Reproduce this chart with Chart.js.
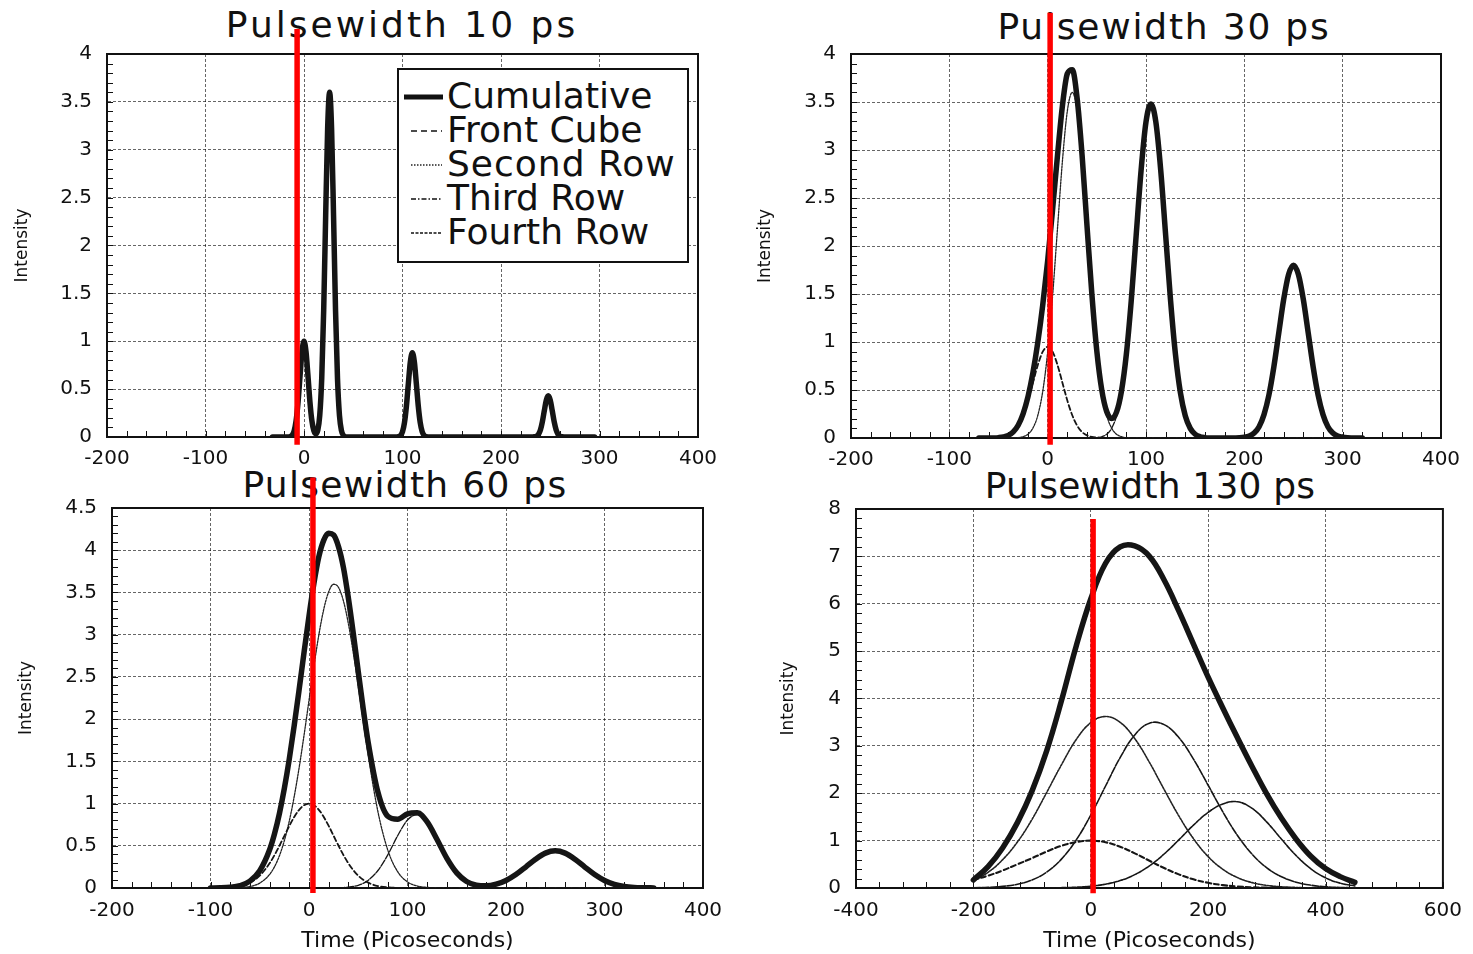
<!DOCTYPE html>
<html>
<head>
<meta charset="utf-8">
<script src="https://cdn.jsdelivr.net/npm/chart.js@4.4.1/dist/chart.umd.min.js"></script>
<style>
html,body{margin:0;padding:0;background:#fff;}
body{width:1473px;height:954px;position:relative;overflow:hidden;font-family:'DejaVu Sans',sans-serif;color:#111;}
.title{position:absolute;font-size:36px;line-height:36px;white-space:nowrap;transform:translateX(-50%);z-index:1;}
.wrap{position:absolute;width:736px;height:477px;z-index:2;}
canvas{display:block;}
#legend{position:absolute;left:397px;top:68px;width:288px;height:191px;border:2px solid #111;background:#fff;z-index:3;}
#legend svg{position:absolute;left:0;top:0;}
#legend .lt{position:absolute;left:48px;font-size:36px;line-height:36px;white-space:nowrap;}
</style>
</head>
<body>
<div class="title" style="left:402px;top:7px;letter-spacing:3px;">Pulsewidth 10 ps</div>
<div class="title" style="left:1164px;top:9px;letter-spacing:1.8px;">Pulsewidth 30 ps</div>
<div class="title" style="left:405px;top:467px;letter-spacing:1.3px;">Pulsewidth 60 ps</div>
<div class="title" style="left:1150px;top:468px;letter-spacing:0.2px;">Pulsewidth 130 ps</div>

<div class="wrap" style="left:0;top:0;"><canvas id="c1" width="736" height="477"></canvas></div>
<div class="wrap" style="left:737px;top:0;"><canvas id="c2" width="736" height="477"></canvas></div>
<div class="wrap" style="left:0;top:477px;"><canvas id="c3" width="736" height="477"></canvas></div>
<div class="wrap" style="left:737px;top:477px;"><canvas id="c4" width="736" height="477"></canvas></div>

<div id="legend">
  <svg width="288" height="191">
    <line x1="5" y1="27" x2="44" y2="27" stroke="#111" stroke-width="5"/>
    <line x1="12" y1="61" x2="43" y2="61" stroke="#111" stroke-width="1.6" stroke-dasharray="6,4"/>
    <line x1="12" y1="95" x2="43" y2="95" stroke="#222" stroke-width="1.6" stroke-dasharray="1.5,1.5"/>
    <line x1="12" y1="129" x2="43" y2="129" stroke="#111" stroke-width="1.6" stroke-dasharray="5,2,1.5,2"/>
    <line x1="12" y1="163" x2="43" y2="163" stroke="#111" stroke-width="1.6" stroke-dasharray="3,1.5"/>
  </svg>
  <div class="lt" style="top:7.5px;">Cumulative</div>
  <div class="lt" style="top:41.5px;">Front Cube</div>
  <div class="lt" style="top:75.5px;letter-spacing:1px;">Second Row</div>
  <div class="lt" style="top:109.5px;">Third Row</div>
  <div class="lt" style="top:143.5px;">Fourth Row</div>
</div>

<script>
// ================= DATA =================
const seriesNames = ['Cumulative','Front Cube','Second Row','Third Row','Fourth Row'];
const xAxisTitle = 'Time (Picoseconds)';
const yAxisTitle = 'Intensity';

// ---- Panel 1 : Pulsewidth 10 ps ----
const p1XTicks = [-200,-100,0,100,200,300,400];
const p1YTicks = [0,0.5,1,1.5,2,2.5,3,3.5,4];
const p1Time = [-32,-20,-16,-14,-12,-10,-8,-6,-4,-2,
  0,2,4,6,8,10,12,14,16,18,20,22,24,26,28,30,32,34,36,38,40,42,44,
  50,90,
  94,96,98,100,102,104,106,108,110,112,114,116,118,120,122,124,126,
  130,228,
  232,234,236,238,240,242,244,246,248,250,252,254,256,258,260,262,264,
  268,295];
const p1Front = [0,0,0.001,0.004,0.019,0.063,0.17,0.369,0.642,0.895,
  1,0.895,0.642,0.369,0.17,0.063,0.019,0.004,0.001,0,0,0,0,0,0,0,0,0,0,0,0,0,0,
  0,0,
  0,0,0,0,0,0,0,0,0,0,0,0,0,0,0,0,0,
  0,0,
  0,0,0,0,0,0,0,0,0,0,0,0,0,0,0,0,0,
  0,0];
const p1Second = [0,0,0,0,0,0,0,0,0,0,
  0,0,0,0,0,0.003,0.016,0.067,0.226,0.612,1.328,2.311,3.222,3.6,3.222,2.311,1.328,0.612,0.226,0.067,0.016,0.003,0,
  0,0,
  0,0,0,0,0,0,0,0,0,0,0,0,0,0,0,0,0,
  0,0,
  0,0,0,0,0,0,0,0,0,0,0,0,0,0,0,0,0,
  0,0];
const p1Third = [0,0,0,0,0,0,0,0,0,0,
  0,0,0,0,0,0,0,0,0,0,0,0,0,0,0,0,0,0,0,0,0,0,0,
  0,0,
  0.001,0.004,0.016,0.055,0.15,0.325,0.565,0.788,0.88,0.788,0.565,0.325,0.15,0.055,0.016,0.004,0.001,
  0,0,
  0,0,0,0,0,0,0,0,0,0,0,0,0,0,0,0,0,
  0,0];
const p1Fourth = [0,0,0,0,0,0,0,0,0,0,
  0,0,0,0,0,0,0,0,0,0,0,0,0,0,0,0,0,0,0,0,0,0,0,
  0,0,
  0,0,0,0,0,0,0,0,0,0,0,0,0,0,0,0,0,
  0,0,
  0,0.002,0.008,0.027,0.073,0.159,0.276,0.385,0.43,0.385,0.276,0.159,0.073,0.027,0.008,0.002,0,
  0,0];
const p1Cumulative = [0,0,0.001,0.004,0.019,0.063,0.17,0.369,0.642,0.895,
  1,0.895,0.642,0.369,0.17,0.066,0.035,0.071,0.227,0.612,1.328,2.311,3.222,3.6,3.222,2.311,1.328,0.612,0.226,0.067,0.016,0.003,0,
  0,0,
  0.001,0.004,0.016,0.055,0.15,0.325,0.565,0.788,0.88,0.788,0.565,0.325,0.15,0.055,0.016,0.004,0.001,
  0,0,
  0,0.002,0.008,0.027,0.073,0.159,0.276,0.385,0.43,0.385,0.276,0.159,0.073,0.027,0.008,0.002,0,
  0,0];
const p1MarkTime = [-7,-7];
const p1MarkLevel = [-0.08,4.26];

// ---- Panel 2 : Pulsewidth 30 ps ----
const p2XTicks = [-200,-100,0,100,200,300,400];
const p2YTicks = [0,0.5,1,1.5,2,2.5,3,3.5,4];
const p2Time = [-70,-60,
  -55,-50,-45,-40,-35,-30,-25,-20,-15,-10,-5,
  0,5,10,15,20,25,30,35,40,45,50,
  55,60,65,70,75,80,85,90,95,100,105,
  110,115,120,125,130,135,140,145,150,155,160,165,170,
  180,190,
  195,200,205,210,215,220,225,230,235,240,245,
  250,255,260,265,270,275,280,285,290,295,300,305,310,
  320];
const p2Front = [0,0,
  0.001,0.004,0.011,0.027,0.062,0.129,0.237,0.39,0.576,0.761,0.899,
  0.95,0.899,0.761,0.576,0.39,0.237,0.129,0.062,0.027,0.011,0.004,
  0.001,0,0,0,0,0,0,0,0,0,0,
  0,0,0,0,0,0,0,0,0,0,0,0,0,
  0,0,
  0,0,0,0,0,0,0,0,0,0,0,
  0,0,0,0,0,0,0,0,0,0,0,0,0,
  0];
const p2Second = [0,0,
  0,0,0,0,0.001,0.004,0.014,0.04,0.103,0.237,0.487,
  0.896,1.48,2.183,2.884,3.406,3.6,3.406,2.884,2.183,1.48,0.896,
  0.487,0.237,0.103,0.04,0.014,0.004,0.001,0,0,0,0,
  0,0,0,0,0,0,0,0,0,0,0,0,0,
  0,0,
  0,0,0,0,0,0,0,0,0,0,0,
  0,0,0,0,0,0,0,0,0,0,0,0,0,
  0];
const p2Third = [0,0,
  0,0,0,0,0,0,0,0,0,0,0,
  0,0,0,0,0,0,0,0,0,0.001,0.004,
  0.013,0.039,0.1,0.229,0.471,0.867,1.43,2.111,2.787,3.292,3.48,
  3.292,2.787,2.111,1.43,0.867,0.471,0.229,0.1,0.039,0.013,0.004,0.001,0,
  0,0,
  0,0,0,0,0,0,0,0,0,0,0,
  0,0,0,0,0,0,0,0,0,0,0,0,0,
  0];
const p2Fourth = [0,0,
  0,0,0,0,0,0,0,0,0,0,0,
  0,0,0,0,0,0,0,0,0,0,0,
  0,0,0,0,0,0,0,0,0,0,0,
  0,0,0,0,0,0,0,0,0,0,0,0,0,
  0,0.001,
  0.002,0.007,0.02,0.051,0.118,0.244,0.448,0.74,1.092,1.442,1.703,
  1.8,1.703,1.442,1.092,0.74,0.448,0.244,0.118,0.051,0.02,0.007,0.002,0.001,
  0];
const p2Cumulative = [0,0,
  0.001,0.004,0.011,0.027,0.063,0.133,0.251,0.43,0.679,0.998,1.386,
  1.846,2.379,2.944,3.46,3.796,3.837,3.535,2.946,2.21,1.492,0.904,
  0.501,0.276,0.203,0.269,0.485,0.871,1.431,2.111,2.787,3.292,3.48,
  3.292,2.787,2.111,1.43,0.867,0.471,0.229,0.1,0.039,0.013,0.004,0.001,0,
  0,0.001,
  0.002,0.007,0.02,0.051,0.118,0.244,0.448,0.74,1.092,1.442,1.703,
  1.8,1.703,1.442,1.092,0.74,0.448,0.244,0.118,0.051,0.02,0.007,0.002,0.001,
  0];
const p2MarkTime = [2.5,2.5];
const p2MarkLevel = [-0.07,4.43];

// ---- Panel 3 : Pulsewidth 60 ps ----
const p3XTicks = [-200,-100,0,100,200,300,400];
const p3YTicks = [0,0.5,1,1.5,2,2.5,3,3.5,4,4.5];
const p3Time = [-100,-90,-80,-70,-60,-50,
  -40,-35,-30,-25,-20,-15,-10,-5,0,
  5,10,15,20,25,30,35,40,45,50,55,60,
  70,80,90,100,110,120,130,140,150,160,
  170,180,190,200,210,220,230,240,250,260,
  270,280,290,300,310,320,330,340,350];
const p3Front = [0.001,0.002,0.007,0.023,0.063,0.146,
  0.292,0.39,0.5,0.618,0.735,0.841,0.926,0.981,1,
  0.981,0.926,0.841,0.735,0.618,0.5,0.39,0.292,0.211,0.146,0.098,0.063,
  0.023,0.007,0.002,0.001,0,0,0,0,0,0,
  0,0,0,0,0,0,0,0,0,0,
  0,0,0,0,0,0,0,0,0];
const p3Second = [0,0,0.001,0.005,0.018,0.058,
  0.16,0.252,0.383,0.562,0.794,1.084,1.426,1.812,2.221,
  2.627,2.998,3.302,3.509,3.597,3.559,3.398,3.129,2.782,2.386,1.975,1.577,
  0.903,0.449,0.193,0.072,0.023,0.007,0.002,0,0,0,
  0,0,0,0,0,0,0,0,0,0,
  0,0,0,0,0,0,0,0,0];
const p3Third = [0,0,0,0,0,0,
  0,0,0,0,0,0,0,0,0,
  0,0,0,0,0.001,0.002,0.005,0.01,0.018,0.032,0.055,0.09,
  0.207,0.393,0.619,0.806,0.869,0.776,0.573,0.351,0.178,0.074,
  0.026,0.007,0.002,0,0,0,0,0,0,0,
  0,0,0,0,0,0,0,0,0];
const p3Fourth = [0,0,0,0,0,0,
  0,0,0,0,0,0,0,0,0,
  0,0,0,0,0,0,0,0,0,0,0,0,
  0,0,0,0,0,0,0,0,0.001,0.003,
  0.007,0.019,0.044,0.089,0.159,0.248,0.341,0.413,0.44,0.413,
  0.341,0.248,0.159,0.089,0.044,0.019,0.007,0.003,0.001];
const p3Cumulative = [0.001,0.002,0.008,0.028,0.081,0.204,
  0.452,0.642,0.883,1.18,1.529,1.925,2.352,2.793,3.221,
  3.608,3.924,4.12,4.2,4.18,4.04,3.793,3.431,3.011,2.564,2.128,1.73,
  1.133,0.849,0.814,0.879,0.892,0.783,0.575,0.351,0.179,0.077,
  0.033,0.026,0.046,0.089,0.159,0.248,0.341,0.413,0.44,0.413,
  0.341,0.248,0.159,0.089,0.044,0.019,0.007,0.003,0.001];
const p3MarkTime = [4,4];
const p3MarkLevel = [-0.06,4.86];

// ---- Panel 4 : Pulsewidth 130 ps ----
const p4XTicks = [-400,-200,0,200,400,600];
const p4YTicks = [0,1,2,3,4,5,6,7,8];
const p4Time = [-200,-175,-150,-125,-100,-75,-50,-25,0,25,50,75,100,125,150,175,200,225,250,275,300,325,350,375,400,425,450];
const p4Front = [0.17,0.26,0.37,0.5,0.63,0.77,0.89,0.97,1,0.966,0.871,0.732,0.575,0.421,0.288,0.183,0.109,0.061,0.031,0.015,0.007,0.003,0.001,0,0,0,0];
const p4Second = [0.15,0.33,0.6,0.97,1.45,2.02,2.6,3.13,3.49,3.62,3.497,3.152,2.651,2.08,1.523,1.041,0.663,0.395,0.219,0.113,0.055,0.025,0.011,0.004,0.001,0,0];
const p4Third = [0.005,0.013,0.034,0.079,0.17,0.336,0.609,1.01,1.538,2.148,2.751,3.231,3.48,3.449,3.176,2.721,2.169,1.608,1.109,0.712,0.425,0.236,0.122,0.059,0.026,0.011,0.004];
const p4Fourth = [0,0,0,0,0.001,0.002,0.007,0.016,0.038,0.08,0.156,0.282,0.468,0.718,1.016,1.326,1.597,1.774,1.82,1.68,1.39,1.03,0.683,0.405,0.215,0.102,0.043];
const p4Cumulative = [0.17,0.45,0.85,1.38,2.05,2.9,3.95,5.1,6.1,6.85,7.2,7.22,7.0,6.5,5.85,5.15,4.45,3.8,3.17,2.56,1.98,1.47,1.03,0.67,0.41,0.24,0.12];
const p4MarkTime = [4,4];
const p4MarkLevel = [-0.11,7.79];

// ================= RENDERING =================
Chart.defaults.font.family = "'DejaVu Sans', sans-serif";
Chart.defaults.color = '#111';

const framePlugin = {
  id: 'frame',
  beforeDatasetsDraw(chart, args, opts) {
    const {ctx, chartArea: a, scales: {x, y}} = chart;
    ctx.save();
    ctx.strokeStyle = '#111';
    ctx.lineWidth = 1;
    ctx.beginPath();
    for (let v = y.min; v <= y.max + 1e-9; v += opts.yMinor) {
      const py = Math.round(y.getPixelForValue(v)) + 0.5;
      ctx.moveTo(a.left, py); ctx.lineTo(a.left + 6, py);
    }
    for (let v = x.min; v <= x.max + 1e-9; v += opts.xMinor) {
      const px = Math.round(x.getPixelForValue(v)) + 0.5;
      ctx.moveTo(px, a.bottom); ctx.lineTo(px, a.bottom - 6);
    }
    ctx.stroke();
    ctx.lineWidth = 2;
    ctx.strokeRect(a.left, a.top, a.right - a.left, a.bottom - a.top);
    ctx.restore();
  }
};

function pts(time, vals) { return time.map((t, i) => ({x: t, y: vals[i]})); }

function buildPanel(id, p) {
  const interp = p.smooth === 'bezier'
    ? {cubicInterpolationMode: 'default', tension: 0.4}
    : {cubicInterpolationMode: 'monotone'};
  const cw = p.compWidth;
  const datasets = [
    {label: 'marker', data: pts(p.markTime, p.markLevel), borderColor: '#ff0000', borderWidth: 5.5, clip: false, tension: 0, borderCapStyle: 'butt'},
    Object.assign({label: seriesNames[0], data: pts(p.time, p.cum), borderColor: '#151515', borderWidth: 5.5}, interp),
    Object.assign({label: seriesNames[1], data: pts(p.time, p.front), borderColor: '#151515', borderWidth: cw + 0.5, borderDash: [5, 3]}, interp),
    Object.assign({label: seriesNames[2], data: pts(p.time, p.second), borderColor: '#222', borderWidth: cw, borderDash: [2, 1.2]}, interp),
    Object.assign({label: seriesNames[3], data: pts(p.time, p.third), borderColor: '#151515', borderWidth: cw, borderDash: [7, 1.5]}, interp),
    Object.assign({label: seriesNames[4], data: pts(p.time, p.fourth), borderColor: '#151515', borderWidth: cw, borderDash: [4, 1.2]}, interp)
  ];
  return new Chart(document.getElementById(id), {
    type: 'line',
    data: {datasets},
    options: {
      responsive: false,
      animation: false,
      devicePixelRatio: 1,
      events: [],
      layout: {padding: {top: p.padTop, right: p.padRight, left: 0, bottom: 0}},
      elements: {point: {radius: 0}, line: {borderJoinStyle: 'round', borderCapStyle: 'round', fill: false}},
      plugins: {
        legend: {display: false},
        tooltip: {enabled: false},
        title: {display: false},
        frame: {xMinor: p.xMinor, yMinor: p.yMinor}
      },
      scales: {
        x: {
          type: 'linear',
          min: p.xTicks[0], max: p.xTicks[p.xTicks.length - 1],
          afterBuildTicks: (s) => { s.ticks = p.xTicks.map(v => ({value: v})); },
          afterFit: (s) => { s.height = p.xH; },
          grid: {color: 'rgba(0,0,0,0.6)', lineWidth: 1, drawTicks: false},
          border: {display: true, color: '#111', width: 2, dash: [3, 2]},
          ticks: {padding: p.xTickPad, color: '#111', font: {size: 20}, maxRotation: 0, autoSkip: false, callback: (v) => String(v)},
          title: {display: p.showXTitle, text: xAxisTitle, color: '#111', font: {size: 22}, padding: {top: 0, bottom: 0}}
        },
        y: {
          type: 'linear',
          min: p.yTicks[0], max: p.yTicks[p.yTicks.length - 1],
          afterBuildTicks: (s) => { s.ticks = p.yTicks.map(v => ({value: v})); },
          afterFit: (s) => { s.width = p.yW; },
          grid: {color: 'rgba(0,0,0,0.6)', lineWidth: 1, drawTicks: false},
          border: {display: true, color: '#111', width: 2, dash: [3, 2]},
          ticks: {padding: 15, color: '#111', font: {size: 20}, autoSkip: false, callback: (v) => String(v)},
          title: {display: true, text: yAxisTitle, color: '#111', font: {size: 17}, padding: {top: p.yTitlePad, bottom: 0}}
        }
      }
    },
    plugins: [framePlugin]
  });
}

buildPanel('c1', {time: p1Time, cum: p1Cumulative, front: p1Front, second: p1Second, third: p1Third, fourth: p1Fourth,
  markTime: p1MarkTime, markLevel: p1MarkLevel, xTicks: p1XTicks, yTicks: p1YTicks, compWidth: 1.3, xTickPad: 10,
  padTop: 54, padRight: 38, yW: 107, xH: 40, yTitlePad: 12, showXTitle: false, xMinor: 20, yMinor: 0.1});
buildPanel('c2', {time: p2Time, cum: p2Cumulative, front: p2Front, second: p2Second, third: p2Third, fourth: p2Fourth,
  markTime: p2MarkTime, markLevel: p2MarkLevel, xTicks: p2XTicks, yTicks: p2YTicks, compWidth: 1.3, xTickPad: 10,
  padTop: 54, padRight: 32, yW: 114, xH: 39, yTitlePad: 18, showXTitle: false, xMinor: 20, yMinor: 0.1});
buildPanel('c3', {time: p3Time, cum: p3Cumulative, front: p3Front, second: p3Second, third: p3Third, fourth: p3Fourth,
  markTime: p3MarkTime, markLevel: p3MarkLevel, xTicks: p3XTicks, yTicks: p3YTicks, compWidth: 1.3, xTickPad: 11,
  padTop: 31, padRight: 33, yW: 112, xH: 66, yTitlePad: 16, showXTitle: true, xMinor: 20, yMinor: 0.1});
buildPanel('c4', {time: p4Time, cum: p4Cumulative, front: p4Front, second: p4Second, third: p4Third, fourth: p4Fourth,
  markTime: p4MarkTime, markLevel: p4MarkLevel, xTicks: p4XTicks, yTicks: p4YTicks, compWidth: 1.6, xTickPad: 11,
  padTop: 32, padRight: 26, yW: 119, xH: 66, yTitlePad: 41, showXTitle: true, xMinor: 40, yMinor: 0.2, smooth: 'bezier'});
</script>
</body>
</html>
